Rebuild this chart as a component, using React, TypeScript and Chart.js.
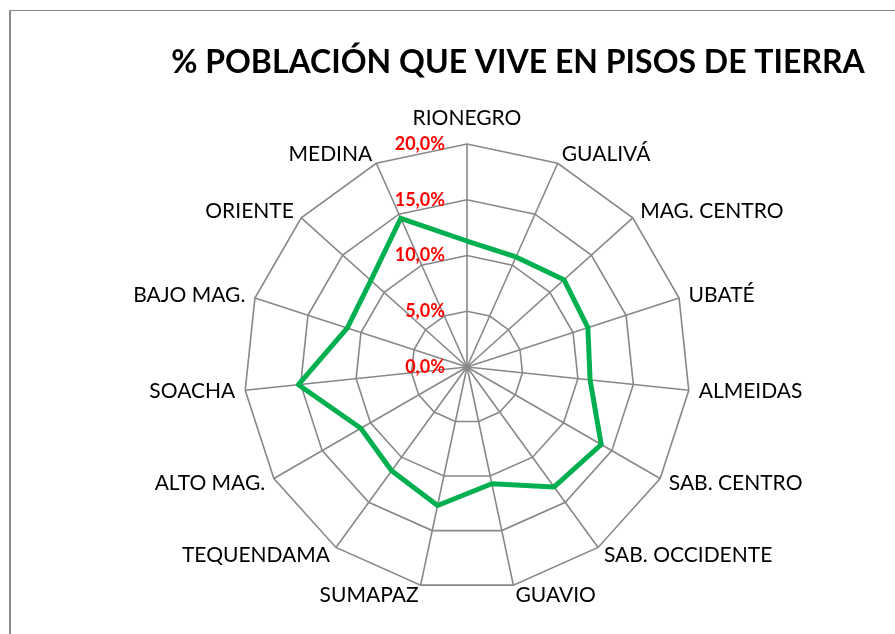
import React, { useEffect, useRef } from "react";
import { Chart, registerables } from "chart.js";

Chart.register(...registerables);

const TITLE = "% POBLACIÓN QUE VIVE EN PISOS DE TIERRA";
const categories = [
  "RIONEGRO",
  "GUALIVÁ",
  "MAG. CENTRO",
  "UBATÉ",
  "ALMEIDAS",
  "SAB. CENTRO",
  "SAB. OCCIDENTE",
  "GUAVIO",
  "SUMAPAZ",
  "TEQUENDAMA",
  "ALTO MAG.",
  "SOACHA",
  "BAJO MAG.",
  "ORIENTE",
  "MEDINA",
];
const values = [11.3, 10.8, 11.7, 11.4, 11.1, 13.9, 13.3, 10.7, 12.7, 11.5, 11.0, 15.2, 11.3, 11.6, 14.6];
const tickValues = [0, 5, 10, 15, 20];
const tickLabels = ["0,0%", "5,0%", "10,0%", "15,0%", "20,0%"];

const labelsPlugin = {
  id: "customLabels",
  afterDraw(chart: any) {
    const scale = chart.scales.r;
    const ctx = chart.ctx;
    ctx.save();
    const R = scale.drawingArea;
    ctx.font = "21px Lato";
    ctx.fillStyle = "#000000";
    ctx.textBaseline = "middle";
    categories.forEach((lab, i) => {
      const angleDeg = Math.round((scale.getIndexAngle(i) * 180) / Math.PI) % 360;
      const extra = angleDeg === 0 ? 26 : 10;
      const p = scale.getPointPosition(i, R + extra);
      ctx.textAlign = angleDeg === 0 || angleDeg === 180 ? "center" : angleDeg < 180 ? "left" : "right";
      ctx.fillText(lab, p.x, p.y);
    });
    ctx.font = "bold 18px Lato";
    ctx.fillStyle = "#FF0000";
    ctx.textAlign = "right";
    tickValues.forEach((v, i) => {
      const d = scale.getDistanceFromCenterForValue(v);
      ctx.fillText(tickLabels[i], scale.xCenter - 22, scale.yCenter - d);
    });
    ctx.font = "bold 32px Lato";
    ctx.fillStyle = "#000000";
    ctx.textAlign = "center";
    ctx.fillText(TITLE, 518, 63);
    ctx.restore();
  },
};

export default function App() {
  const ref = useRef<HTMLCanvasElement>(null);
  useEffect(() => {
    if (!ref.current) return;
    const chart = new Chart(ref.current, {
      type: "radar",
      data: {
        labels: categories,
        datasets: [
          {
            data: values,
            borderColor: "#00B050",
            backgroundColor: "rgba(0,0,0,0)",
            borderWidth: 5,
            pointRadius: 0,
            fill: false,
            tension: 0,
            borderJoinStyle: "round",
          },
        ],
      },
      options: {
        responsive: false,
        animation: false,
        devicePixelRatio: 1,
        layout: { padding: { left: 244, right: 204, top: 143, bottom: 43 } },
        plugins: {
          legend: { display: false },
          tooltip: { enabled: false },
          title: { display: false },
        },
        scales: {
          r: {
            min: 0,
            max: 20,
            ticks: { stepSize: 5, display: false },
            grid: { color: "#888888", lineWidth: 1.6 },
            angleLines: { color: "#888888", lineWidth: 1.6 },
            pointLabels: { display: false },
          },
        },
      },
      plugins: [labelsPlugin],
    });
    return () => chart.destroy();
  }, []);

  return (
    <div
      style={{
        position: "fixed",
        left: 0,
        top: 0,
        width: 895,
        height: 634,
        background: "#ffffff",
        overflow: "hidden",
      }}
    >
      <div
        style={{
          position: "absolute",
          left: 9,
          top: 10,
          width: 900,
          height: 640,
          borderLeft: "2px solid #888888",
          borderTop: "1px solid #888888",
        }}
      />
      <canvas
        ref={ref}
        width={895}
        height={634}
        style={{ position: "absolute", left: 0, top: 0, width: 895, height: 634 }}
      />
    </div>
  );
}
